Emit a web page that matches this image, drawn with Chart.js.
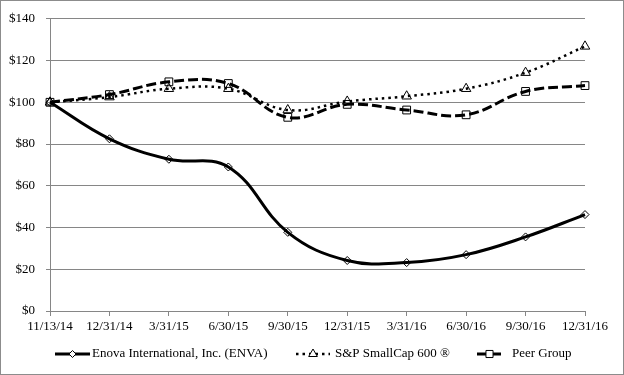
<!DOCTYPE html>
<html>
<head>
<meta charset="utf-8">
<script src="https://cdn.jsdelivr.net/npm/chart.js@4.4.1/dist/chart.umd.min.js"></script>
<style>
  body { margin: 0; background: #fff; }
</style>
</head>
<body>
<canvas id="perfChart" width="624" height="375"></canvas>
<script>
// period-end dates on the x axis
const dates = ['11/13/14', '12/31/14', '3/31/15', '6/30/15', '9/30/15', '12/31/15', '3/31/16', '6/30/16', '9/30/16', '12/31/16'];

// value of $100 invested
const enva = [100, 82.5, 72.7, 69, 37.7, 24.2, 23.2, 27, 35.5, 46.2];
const smallCap = [100, 102.5, 106.5, 106.5, 96.3, 100.4, 102.9, 106.5, 114.2, 126.8];
const peerGroup = [100, 103.7, 109.8, 109, 92.8, 99, 96.3, 94, 105.2, 108];

const serif = "'Liberation Serif', 'Times New Roman', serif";

// legend with a short line + marker sample, like the Excel one
const lineLegend = {
    id: 'lineLegend',
    beforeDraw(chart) {
        const c = chart.ctx;
        c.save();
        c.fillStyle = '#fff';
        c.fillRect(0, 0, chart.width, chart.height);
        c.restore();
    },
    afterDraw(chart) {
        const c = chart.ctx;
        const y = 354;
        const items = [
            { ds: 0, x1: 55, x2: 90, tx: 92 },
            { ds: 1, x1: 296, x2: 330, tx: 335 },
            { ds: 2, x1: 477, x2: 502, tx: 512 }
        ];
        c.save();
        items.forEach(it => {
            const ds = chart.data.datasets[it.ds];
            c.beginPath();
            c.strokeStyle = '#000';
            c.lineWidth = ds.borderWidth;
            c.setLineDash(ds.borderDash || []);
            c.moveTo(it.x1, y);
            c.lineTo(it.x2, y);
            c.stroke();
            c.setLineDash([]);
            c.fillStyle = '#fff';
            c.strokeStyle = '#000';
            c.lineWidth = 1;
            Chart.helpers.drawPoint(c, {
                pointStyle: ds.pointStyle,
                radius: ds.pointRadius - 0.5,
                borderWidth: 1
            }, (it.x1 + it.x2) / 2, y);
            c.fillStyle = '#000';
            c.font = '13px ' + serif;
            c.textBaseline = 'middle';
            c.fillText(ds.label, it.tx, y);
        });
        // outer frame
        c.strokeStyle = '#8c8c8c';
        c.lineWidth = 1;
        c.strokeRect(0.5, 0.5, chart.width - 1, chart.height - 1);
        c.restore();
    }
};

const ctx = document.getElementById('perfChart').getContext('2d');

let perfChart = new Chart(ctx, {
    type: 'line',
    data: {
        labels: dates,
        datasets: [
            {
                label: 'Enova International, Inc. (ENVA)',
                data: enva,
                borderColor: '#000',
                borderWidth: 3,
                pointStyle: 'rectRot',
                pointRadius: 4,
                pointBorderWidth: 1,
                pointBorderColor: '#000',
                pointBackgroundColor: 'rgba(255,255,255,0)',
                tension: 0.4,
                order: 1
            },
            {
                label: 'S&P SmallCap 600 ®',
                data: smallCap,
                borderColor: '#000',
                borderWidth: 2.5,
                borderDash: [2.5, 4],
                pointStyle: 'triangle',
                pointRadius: 5.5,
                pointBorderWidth: 1,
                pointBorderColor: '#000',
                pointBackgroundColor: 'rgba(255,255,255,0)',
                tension: 0.4,
                order: 3
            },
            {
                label: 'Peer Group',
                data: peerGroup,
                borderColor: '#000',
                borderWidth: 3,
                borderDash: [10, 4],
                pointStyle: 'rect',
                pointRadius: 5.5,
                pointBorderWidth: 1,
                pointBorderColor: '#000',
                pointBackgroundColor: 'rgba(255,255,255,0)',
                tension: 0.4,
                order: 2
            }
        ]
    },
    options: {
        responsive: false,
        animation: {
            duration: 0 // no animation
        },
        layout: {
            padding: { top: 15, right: 39, bottom: 0, left: 0 }
        },
        plugins: {
            legend: { display: false },
            tooltip: { enabled: false }
        },
        scales: {
            x: {
                offset: false,
                afterFit: (scale) => { scale.height = 64; },
                border: { color: '#868686', width: 1 },
                grid: {
                    drawOnChartArea: false,
                    color: '#868686',
                    tickLength: 5
                },
                ticks: {
                    color: '#000',
                    padding: 3,
                    maxRotation: 0,
                    autoSkip: false,
                    font: { family: serif, size: 13 }
                }
            },
            y: {
                min: 0,
                max: 140,
                afterFit: (scale) => { scale.width = 50; },
                border: { color: '#868686', width: 1 },
                grid: {
                    color: '#868686',
                    tickLength: 4
                },
                ticks: {
                    stepSize: 20,
                    color: '#000',
                    padding: 11,
                    font: { family: serif, size: 13 },
                    callback: (v) => '$' + v
                }
            }
        }
    },
    plugins: [lineLegend]
});
</script>
</body>
</html>
